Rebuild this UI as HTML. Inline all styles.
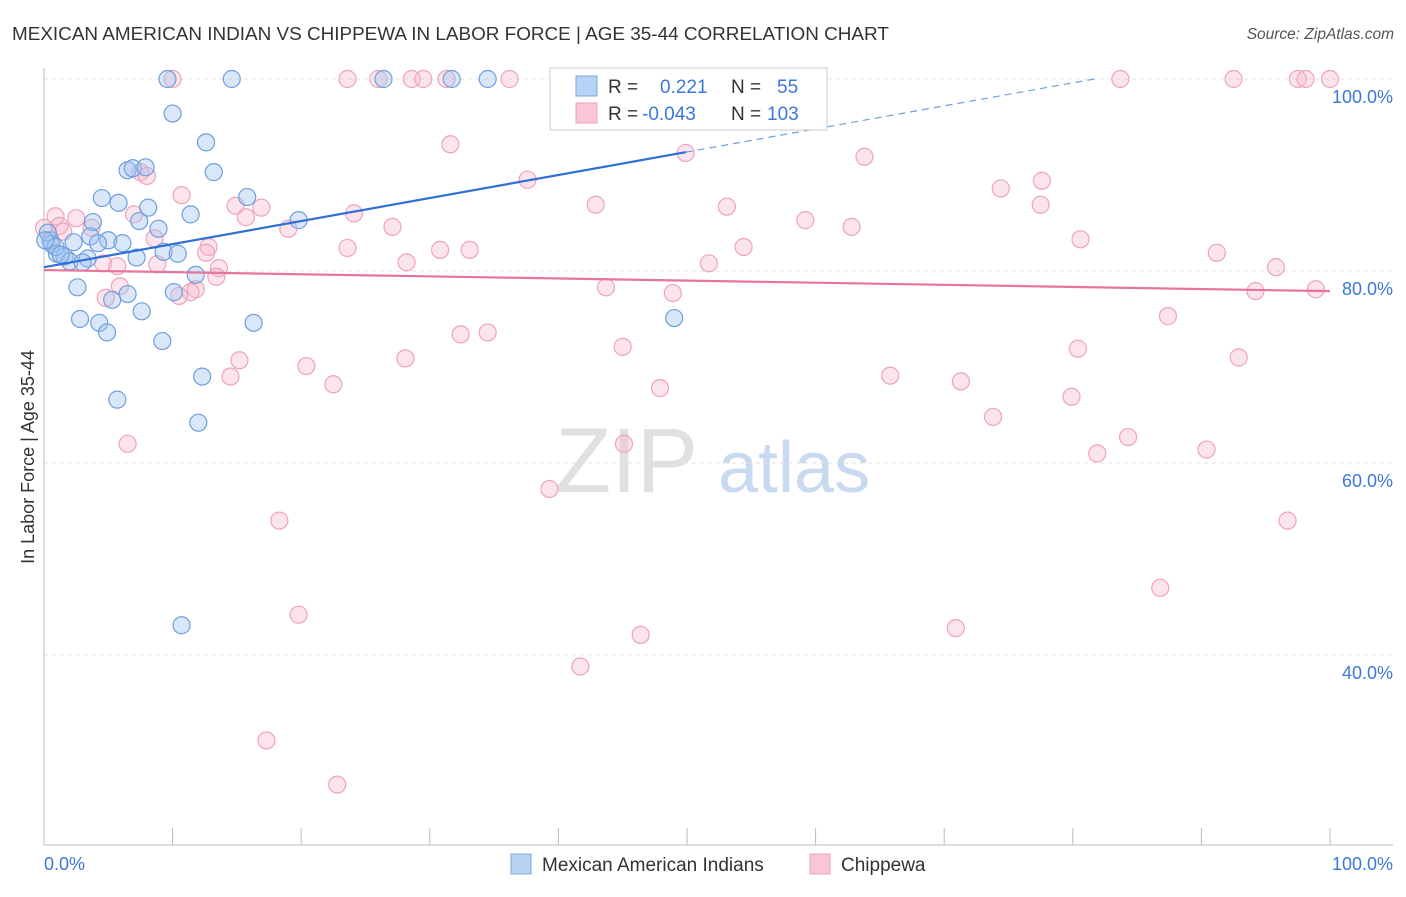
<!DOCTYPE html>
<html><head><meta charset="utf-8"><style>
body{margin:0;background:#fff;font-family:"Liberation Sans",sans-serif}
svg text{font-family:"Liberation Sans",sans-serif}
</style></head><body>
<svg id="c" width="1406" height="892">
<text x="12" y="40" font-size="18.9" fill="#333">MEXICAN AMERICAN INDIAN VS CHIPPEWA IN LABOR FORCE | AGE 35-44 CORRELATION CHART</text>
<text x="1394" y="39" font-size="15.5" fill="#555" text-anchor="end" font-style="italic">Source: ZipAtlas.com</text>
<text transform="translate(34,457) rotate(-90)" font-size="18" fill="#333" text-anchor="middle">In Labor Force | Age 35-44</text>
<g><text x="555" y="492" font-size="92" font-family="Liberation Serif" fill="#e0e0e0">ZIP</text><text x="718" y="492" font-size="72" fill="#c8daf0">atlas</text></g>
<g id="grid"></g><g id="marks"></g>
<g>
<rect x="550" y="68" width="277" height="62" fill="#fff" stroke="#ccc"/>
<rect x="576" y="76" width="21" height="20" fill="#b9d3f5" stroke="#7aa7e0"/>
<rect x="576" y="103" width="21" height="20" fill="#f8c6d6" stroke="#eea0bb"/>
<text x="608" y="93" font-size="19" fill="#333">R =</text><text x="660" y="93" font-size="19" fill="#3b78d8">0.221</text>
<text x="731" y="93" font-size="19" fill="#333">N =</text><text x="777" y="93" font-size="19" fill="#3b78d8">55</text>
<text x="608" y="120" font-size="19" fill="#333">R =</text><text x="642" y="120" font-size="19" fill="#3b78d8">-0.043</text>
<text x="731" y="120" font-size="19" fill="#333">N =</text><text x="767" y="120" font-size="19" fill="#3b78d8">103</text>
</g>
<g>
<rect x="511" y="854" width="20" height="20" fill="#b9d3f5" stroke="#7aa7e0"/>
<text x="542" y="871" font-size="19" fill="#333">Mexican American Indians</text>
<rect x="810" y="854" width="20" height="20" fill="#f8c6d6" stroke="#eea0bb"/>
<text x="841" y="871" font-size="19" fill="#333">Chippewa</text>
</g>
</svg>
<script>
const yTicks=[40,60,80,100];
const yTickLabels=["40.0%","60.0%","80.0%","100.0%"];
const xTicks=[10,20,30,40,50,60,70,80,90,100];
const blueX=[9.6,14.6,26.4,31.7,34.5,10.0,12.6,13.2,6.5,6.9,7.9,4.5,5.8,15.8,8.1,11.4,19.8,3.8,7.4,8.9,3.6,0.5,0.6,2.3,5.0,6.1,4.2,9.3,10.4,1.0,1.6,2.0,3.4,7.2,11.8,2.6,10.1,6.5,5.3,7.6,2.8,4.3,4.9,16.3,9.2,12.3,5.7,12.0,10.7,49.0,0.3,0.9,1.3,3.0,0.1];
const blueY=[100,100,100,100,100,96.4,93.4,90.3,90.5,90.7,90.8,87.6,87.1,87.7,86.6,85.9,85.3,85.1,85.2,84.4,83.6,83.2,82.8,83.0,83.2,82.9,82.9,82.0,81.8,81.8,81.5,81.0,81.3,81.4,79.6,78.3,77.8,77.6,77.0,75.8,75.0,74.6,73.6,74.6,72.7,69.0,66.6,64.2,43.1,75.1,84.0,82.5,81.7,80.9,83.2];
const pinkX=[10.0,23.6,26.0,28.6,29.5,31.3,36.2,49.9,83.7,92.5,97.5,98.1,100,45.7,58.0,31.6,49.9,63.8,7.5,8.0,37.6,10.7,74.4,77.6,42.9,14.9,16.9,53.1,77.5,0.9,7.0,2.5,24.1,15.7,27.1,59.2,62.8,19.0,1.2,3.7,8.6,80.6,12.8,23.6,30.8,33.1,54.4,12.6,91.2,28.2,4.6,5.7,8.8,51.7,95.8,13.6,13.4,5.9,4.8,11.8,11.4,10.5,43.7,48.9,94.2,98.9,87.4,32.4,34.5,45.0,80.4,15.2,28.1,20.4,92.9,14.5,65.8,22.5,47.9,71.3,79.9,73.8,84.3,6.5,45.1,81.9,90.4,39.3,18.3,96.7,86.8,19.8,46.4,70.9,41.7,17.3,22.8,0,1.5];
const pinkY=[100,100,100,100,100,100,100,100,100,100,100,100,100,96.8,96.4,93.2,92.3,91.9,90.3,89.9,89.5,87.9,88.6,89.4,86.9,86.8,86.6,86.7,86.9,85.7,85.9,85.5,86.0,85.6,84.6,85.3,84.6,84.4,84.7,84.5,83.4,83.3,82.5,82.4,82.2,82.2,82.5,81.9,81.9,80.9,80.8,80.5,80.7,80.8,80.4,80.3,79.4,78.4,77.2,78.1,77.8,77.4,78.3,77.7,77.9,78.1,75.3,73.4,73.6,72.1,71.9,70.7,70.9,70.1,71.0,69.0,69.1,68.2,67.8,68.5,66.9,64.8,62.7,62.0,62.0,61.0,61.4,57.3,54.0,54.0,47.0,44.2,42.1,42.8,38.8,31.1,26.5,84.5,84.1];
const blueTrend=[80.4,0.24];
const pinkTrend=[80.1,-0.022];
const blueSolidEnd=[49.9];

const NS="http://www.w3.org/2000/svg";
const sx=v=>44+v*12.86, sy=v=>79+(100-v)*9.6;
function mk(t,a,p){const e=document.createElementNS(NS,t);for(const k in a)e.setAttribute(k,a[k]);p.appendChild(e);return e;}
const g=document.getElementById('grid'), m=document.getElementById('marks');
yTicks.forEach((t,i)=>{
 const l=mk('line',{x1:44,x2:1393,y1:sy(t),y2:sy(t),stroke:'#e2e2e2','stroke-dasharray':'4,4'},g);
 
 
 const tx=mk('text',{x:1393,y:sy(t)+24,'font-size':18,fill:'#3b78d8','text-anchor':'end'},g);tx.textContent=yTickLabels[i];
 
 
});
const ax=mk('line',{x1:44,x2:44,y1:68,y2:845,stroke:'#bbb'},g);


const bx=mk('line',{x1:44,x2:1393,y1:845,y2:845,stroke:'#bbb'},g);


xTicks.forEach(t=>{const l=mk('line',{x1:sx(t),x2:sx(t),y1:828,y2:845,stroke:'#bbb'},g);
 
 });
const x0=mk('text',{x:44,y:870,'font-size':18,fill:'#3b78d8'},g);x0.textContent='0.0%';


const x1=mk('text',{x:1393,y:870,'font-size':18,fill:'#3b78d8','text-anchor':'end'},g);x1.textContent='100.0%';


pinkX.forEach((x,i)=>{const c=mk('circle',{cx:sx(x),cy:sy(pinkY[i]),r:8.5,fill:'rgba(246,178,202,0.35)',stroke:'#eea3bd','stroke-width':1.2},m);
 
 });
blueX.forEach((x,i)=>{const c=mk('circle',{cx:sx(x),cy:sy(blueY[i]),r:8.5,fill:'rgba(160,196,240,0.4)',stroke:'#6f9fdc','stroke-width':1.2},m);
 
 });
const bEnd=blueSolidEnd[0], bMax=(100-blueTrend[0])/blueTrend[1];
const bl=mk('line',{x1:sx(0),y1:sy(blueTrend[0]),x2:sx(bEnd),y2:sy(blueTrend[0]+blueTrend[1]*bEnd),stroke:'#2f6fd6','stroke-width':2.2},m);


const bd=mk('line',{x1:sx(bEnd),y1:sy(blueTrend[0]+blueTrend[1]*bEnd),x2:sx(bMax),y2:sy(100),stroke:'#6f9fdc','stroke-width':1.2,'stroke-dasharray':'7,5'},m);


const pl=mk('line',{x1:sx(0),y1:sy(pinkTrend[0]),x2:sx(100),y2:sy(pinkTrend[0]+pinkTrend[1]*100),stroke:'#e8739c','stroke-width':2.2},m);


</script>
</body></html>
